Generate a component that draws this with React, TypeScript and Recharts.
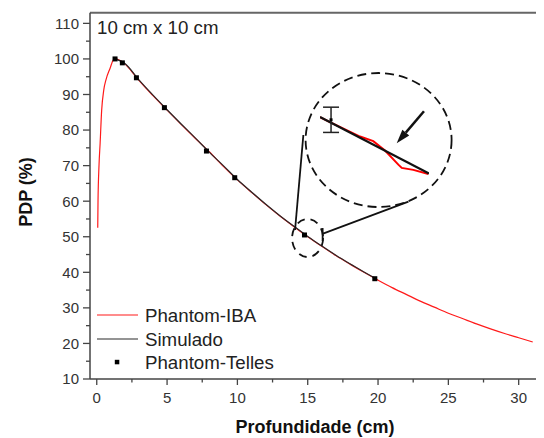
import React from 'react';
import {
  ComposedChart,
  Line,
  Scatter,
  XAxis,
  YAxis,
  ReferenceLine,
  ReferenceDot,
  ErrorBar,
} from 'recharts';

// Phantom-IBA measured depth-dose curve
const ibaDepth = [
  0.07, 0.09, 0.16, 0.24, 0.35, 0.5, 0.66, 0.95, 1.18, 1.35, 1.6, 2, 2.5, 3, 4, 5, 6, 7, 8, 9, 10,
  11, 12, 13, 14, 15, 16, 17, 18, 19, 20, 21, 22, 23, 24, 25, 26, 27, 28, 29, 30, 31,
];
const ibaDose = [
  52.5, 60, 70, 76.3, 85.6, 91.3, 94.2, 97.4, 99.7, 100, 99.7, 98.6, 96.4, 94.0, 89.7, 85.6, 81.6,
  77.7, 73.9, 69.8, 66.0, 62.5, 59.1, 55.9, 52.9, 50.0, 47.3, 44.7, 42.3, 40.0, 37.8, 35.7, 33.8,
  31.9, 30.2, 28.5, 27.0, 25.5, 24.1, 22.8, 21.6, 20.4,
];

// Simulated curve
const simDepth = [1.3, 2, 3, 4, 5, 6, 7, 8, 9, 10, 11, 12, 13, 14, 15, 16, 17, 18, 19, 19.8];
const simDose = [
  100, 98.7, 94.1, 89.8, 85.7, 81.7, 77.8, 73.8, 70.0, 66.1, 62.6, 59.2, 56.0, 53.0, 50.1, 47.4,
  44.8, 42.4, 40.1, 38.3,
];

// Phantom-Telles measured points
const tellesDepth = [1.3, 1.82, 2.82, 4.81, 7.8, 9.81, 14.77, 19.77];
const tellesDose = [100, 98.9, 94.7, 86.3, 74.1, 66.6, 50.5, 38.2];

// Magnified detail around 15 cm
const detailIbaDepth = [14.4, 14.473, 14.694, 14.791, 14.877, 14.975, 15.0, 15.085, 15.195];
const detailIbaDose = [51.84, 51.61, 50.95, 50.74, 50.31, 49.66, 49.51, 49.42, 49.23];
const detailSimDepth = [14.4, 15.2];
const detailSimDose = [51.85, 49.25];
const detailPointDepth = [14.481];
const detailPointDose = [51.72];
const detailPointErr = [0.58];

const xTicks = [0, 2.5, 5, 7.5, 10, 12.5, 15, 17.5, 20, 22.5, 25, 27.5, 30];
const yTicks = [10, 15, 20, 25, 30, 35, 40, 45, 50, 55, 60, 65, 70, 75, 80, 85, 90, 95, 100, 105, 110];

const zip = (xs: number[], ys: number[]) => xs.map((x, i) => ({ x, y: ys[i] }));
const ibaData = zip(ibaDepth, ibaDose);
const simData = zip(simDepth, simDose);
const tellesData = zip(tellesDepth, tellesDose);
const detailIba = zip(detailIbaDepth, detailIbaDose);
const detailSim = zip(detailSimDepth, detailSimDose);
const detailPoint = detailPointDepth.map((x, i) => ({ x, y: detailPointDose[i], err: detailPointErr[i] }));

const FONT = '"Liberation Sans", Arial, sans-serif';
const AXIS = '#444';

const YTick = (props: any) => {
  const { x, y, payload } = props;
  const v = payload.value;
  const major = v % 10 === 0;
  return (
    <g>
      <line x1={x - (major ? 7 : 4)} x2={x} y1={y} y2={y} stroke={AXIS} strokeWidth={1.3} />
      {major && (
        <text x={x - 11} y={y + 5.4} textAnchor="end" fontSize={15} fill="#333" fontFamily={FONT}>
          {v}
        </text>
      )}
    </g>
  );
};

const XTick = (props: any) => {
  const { x, y, payload } = props;
  const v = payload.value;
  const major = v % 5 === 0;
  return (
    <g>
      <line x1={x} x2={x} y1={y} y2={y + (major ? 6 : 3.5)} stroke={AXIS} strokeWidth={1.3} />
      {major && (
        <text x={x} y={y + 24} textAnchor="middle" fontSize={15} fill="#333" fontFamily={FONT}>
          {v}
        </text>
      )}
    </g>
  );
};

const Square = (size: number) => (props: any) => {
  const { cx, cy } = props;
  return <rect x={cx - size / 2} y={cy - size / 2} width={size} height={size} fill="#000" />;
};

const DashedEllipse = (rx: number, ry: number, dash: string) => (props: any) => (
  <ellipse
    cx={props.cx}
    cy={props.cy}
    rx={rx}
    ry={ry}
    fill="none"
    stroke="#111"
    strokeWidth={1.8}
    strokeDasharray={dash}
  />
);

const Arrow = (props: any) => {
  const { x1, y1, x2, y2 } = props;
  const dx = x2 - x1;
  const dy = y2 - y1;
  const len = Math.sqrt(dx * dx + dy * dy) || 1;
  const ux = dx / len;
  const uy = dy / len;
  const head = 14;
  const half = 4.5;
  const bx = x2 - ux * head;
  const by = y2 - uy * head;
  return (
    <g>
      <line x1={x1} y1={y1} x2={bx} y2={by} stroke="#111" strokeWidth={2.5} />
      <polygon
        points={`${x2},${y2} ${bx - uy * half},${by + ux * half} ${bx + uy * half},${by - ux * half}`}
        fill="#111"
      />
    </g>
  );
};

const legendText = { fontSize: 18.7, fill: '#222', fontFamily: FONT } as const;

export default function App() {
  return (
    <div style={{ position: 'relative', width: 536, height: 430 }}>
      <ComposedChart width={536} height={430} margin={{ top: 4.7, right: 0, bottom: 19, left: 0 }}>
        <XAxis
          type="number"
          dataKey="x"
          domain={[-0.48, 31.8]}
          allowDataOverflow
          ticks={xTicks}
          interval={0}
          tick={<XTick />}
          tickLine={false}
          tickSize={0}
          tickMargin={0}
          axisLine={{ stroke: AXIS, strokeWidth: 1.5 }}
          height={40}
        />
        <YAxis
          type="number"
          dataKey="y"
          domain={[10, 113]}
          allowDataOverflow
          ticks={yTicks}
          interval={0}
          tick={<YTick />}
          tickLine={false}
          tickSize={0}
          tickMargin={0}
          axisLine={{ stroke: AXIS, strokeWidth: 1.5 }}
          width={82}
        />
        <ReferenceLine y={113} stroke="#666" strokeWidth={2} />

        <Line
          data={ibaData}
          dataKey="y"
          type="monotone"
          stroke="#ff1a1a"
          strokeWidth={1.2}
          dot={false}
          isAnimationActive={false}
        />
        <Line
          data={simData}
          dataKey="y"
          type="monotone"
          stroke="#2a2a2a"
          strokeWidth={1.2}
          dot={false}
          isAnimationActive={false}
        />
        <Scatter data={tellesData} dataKey="y" shape={Square(5)} isAnimationActive={false} />

        {/* callout: magnifier around 15 cm */}
        <ReferenceDot x={14.99} y={49.64} shape={DashedEllipse(15.5, 19, '8 6')} />
        <ReferenceDot x={20.04} y={77.2} shape={DashedEllipse(73, 67, '9 5')} />
        <ReferenceLine
          segment={[{ x: 14.69, y: 78.6 }, { x: 14.1, y: 51.9 }]}
          stroke="#111"
          strokeWidth={1.8}
        />
        <ReferenceLine
          segment={[{ x: 16.09, y: 50.9 }, { x: 22.16, y: 59.85 }]}
          stroke="#111"
          strokeWidth={1.8}
        />
        <ReferenceLine
          segment={[{ x: 16.06, y: 52.45 }, { x: 16.06, y: 48.8 }]}
          stroke="#111"
          strokeWidth={1.8}
        />
      </ComposedChart>

      {/* magnified detail */}
      <div style={{ position: 'absolute', left: 312, top: 96.7 }}>
        <ComposedChart width={109} height={74} margin={{ top: 0, right: 0, bottom: 0, left: 0 }}>
          <XAxis type="number" dataKey="x" domain={[14.4, 15.2]} hide />
          <YAxis type="number" dataKey="y" domain={[49.0, 52.4]} hide />
          <Line
            data={detailIba}
            dataKey="y"
            type="linear"
            stroke="#ff0000"
            strokeWidth={2}
            dot={false}
            isAnimationActive={false}
          />
          <Line
            data={detailSim}
            dataKey="y"
            type="linear"
            stroke="#111"
            strokeWidth={2.2}
            dot={false}
            isAnimationActive={false}
          />
          <Scatter data={detailPoint} dataKey="y" shape={Square(3)} isAnimationActive={false}>
            <ErrorBar dataKey="err" direction="y" width={8} stroke="#222" strokeWidth={1.5} />
          </Scatter>
          <ReferenceLine segment={[{ x: 15.163, y: 52.11 }, { x: 14.963, y: 50.64 }]} shape={Arrow} />
        </ComposedChart>
      </div>

      {/* titles and legend */}
      <svg
        width={536}
        height={430}
        style={{ position: 'absolute', left: 0, top: 0, pointerEvents: 'none' }}
      >
        <text x={89} y={25.6} {...legendText}>
          10 cm x 10 cm
        </text>
        <text
          transform="translate(23.5,184) rotate(-90)"
          textAnchor="middle"
          fontSize={18}
          fontWeight="bold"
          fill="#111"
          fontFamily={FONT}
        >
          PDP (%)
        </text>
        <text
          x={307}
          y={425}
          textAnchor="middle"
          fontSize={18}
          fontWeight="bold"
          fill="#111"
          fontFamily={FONT}
        >
          Profundidade (cm)
        </text>

        <line x1={89} x2={130} y1={307} y2={307} stroke="#ff1a1a" strokeWidth={1.2} />
        <text x={137} y={313.7} {...legendText}>
          Phantom-IBA
        </text>
        <line x1={89} x2={130} y1={331} y2={331} stroke="#2a2a2a" strokeWidth={1.2} />
        <text x={137} y={337.7} {...legendText}>
          Simulado
        </text>
        <rect x={106.8} y={351.8} width={4.5} height={4.5} fill="#000" />
        <text x={137} y={360.7} {...legendText}>
          Phantom-Telles
        </text>
      </svg>
    </div>
  );
}
